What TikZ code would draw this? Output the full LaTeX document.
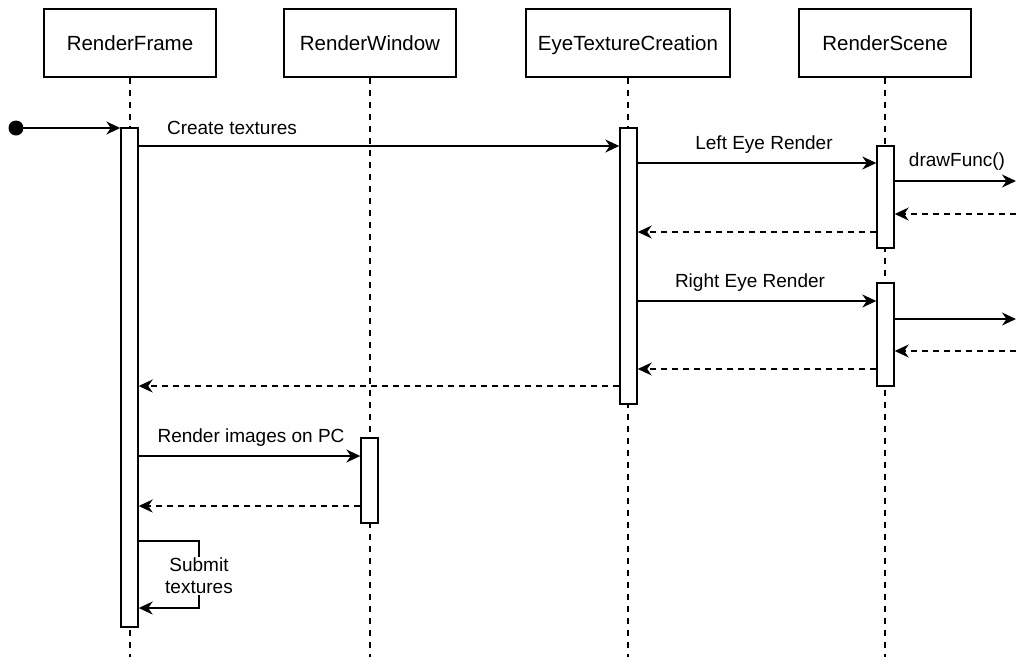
\documentclass[tikz,border=0pt]{standalone}
\usepackage{fontspec}
\setmainfont{Liberation Sans}
\usetikzlibrary{arrows.meta}
\begin{document}
\begin{tikzpicture}[x=1pt,y=-1pt,
  font=\fontsize{19}{22}\selectfont,
  lw/.style={line width=1.4pt},
  head/.style={draw, lw, fill=white, minimum height=68pt, inner sep=0pt,
    font=\fontsize{20.5}{24}\selectfont, text height=17pt, text depth=2pt},
  bar/.style={draw, lw, fill=white, minimum width=17pt, inner sep=0pt},
  life/.style={lw, dash pattern=on 6pt off 6pt},
  msg/.style={lw, -{Stealth[length=14pt,width=13pt,inset=4.5pt]}},
  ret/.style={msg, dash pattern=on 6pt off 5pt},
  lbl/.style={inner sep=1pt}
]
\useasboundingbox (0,0) rectangle (1016,657);

% participants
\node[head, minimum width=172pt] (rf) at (130,43) {RenderFrame};
\node[head, minimum width=172pt] (rw) at (370,43) {RenderWindow};
\node[head, minimum width=204pt] (et) at (628,43) {EyeTextureCreation};
\node[head, minimum width=172pt] (rs) at (885,43) {RenderScene};

% lifelines
\coordinate (bot) at (0,657);
\foreach \p in {rf,rw,et,rs} \draw[life] (\p.south) -- (\p.south |- bot);

% activation bars
\node[bar, minimum height=499pt] (rfa) at (129.5,377.5) {};
\node[bar, minimum height=276pt] (eta) at (628.5,266) {};
\node[bar, minimum height=102pt] (rs1) at (885.5,197) {};
\node[bar, minimum height=103pt] (rs2) at (885.5,334.5) {};
\node[bar, minimum height=85pt]  (rwa) at (369.5,480.5) {};

% message levels
\coordinate (m1) at (0,146);
\coordinate (m2) at (0,163);
\coordinate (m5) at (0,232);
\coordinate (m6) at (0,301);
\coordinate (m9) at (0,369);
\coordinate (m10) at (0,386);
\coordinate (m11) at (0,456);
\coordinate (m12) at (0,506);
\coordinate (s1) at (0,541);
\coordinate (s2) at (0,608);
\coordinate (x1) at (1016,181);
\coordinate (x2) at (1016,214);
\coordinate (x3) at (1016,319);
\coordinate (x4) at (1016,351);
\coordinate (start) at (16,128);
\coordinate (loop) at (199,0);

% entry point
\fill (start) circle (7.5pt);
\draw[msg] (start) -- (rfa.west |- start);

% messages
\draw[msg] (rfa.east |- m1) -- (eta.west |- m1);
\node[lbl] (t1) at (232,128) {Create textures};

\draw[msg] (eta.east |- m2) -- (rs1.west |- m2);
\node[lbl] (t2) at (764,145) {Left Eye Render};

\draw[msg] (rs1.east |- x1) -- (x1);
\node[lbl] (t3) at (957,162) {drawFunc()};
\draw[ret] (x2) -- (rs1.east |- x2);
\draw[ret] (rs1.west |- m5) -- (eta.east |- m5);

\draw[msg] (eta.east |- m6) -- (rs2.west |- m6);
\node[lbl] (t4) at (750,283) {Right Eye Render};

\draw[msg] (rs2.east |- x3) -- (x3);
\draw[ret] (x4) -- (rs2.east |- x4);
\draw[ret] (rs2.west |- m9) -- (eta.east |- m9);

\draw[ret] (eta.west |- m10) -- (rfa.east |- m10);

\draw[msg] (rfa.east |- m11) -- (rwa.west |- m11);
\node[lbl] (t5) at (251,438) {Render images on PC};
\draw[ret] (rwa.west |- m12) -- (rfa.east |- m12);

% self call
\draw[msg] (rfa.east |- s1) -| (loop |- s2) -- (rfa.east |- s2);
\node[lbl, fill=white, align=center, font=\fontsize{19}{22}\selectfont] (t6) at (199,576) {Submit\\textures};
\end{tikzpicture}
\end{document}
